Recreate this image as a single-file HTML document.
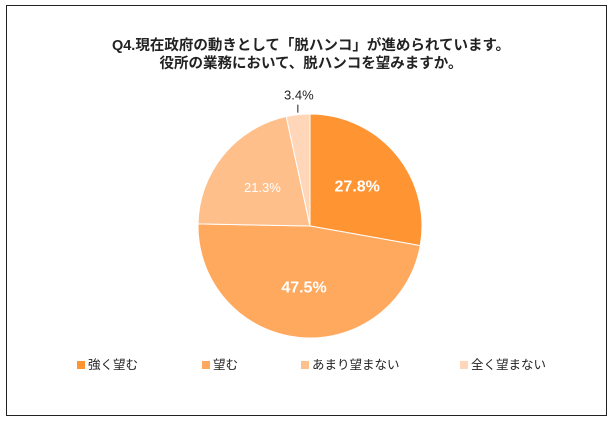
<!DOCTYPE html>
<html><head><meta charset="utf-8"><style>
body{margin:0;background:#fff;width:614px;height:424px;overflow:hidden;font-family:"Liberation Sans","Noto Sans CJK JP",sans-serif}
</style></head><body>
<svg width="614" height="424">
<rect x="6.5" y="5.5" width="600" height="410" fill="#fff" stroke="#222"/>
<text x="311" y="50" text-anchor="middle" font-size="14.5" font-weight="bold" fill="#222">Q4.現在政府の動きとして「脱ハンコ」が進められています。</text>
<text x="311" y="68" text-anchor="middle" font-size="14.5" font-weight="bold" fill="#222">役所の業務において、脱ハンコを望みますか。</text>
<g id="pie"></g>
<g id="legend"></g>
</svg>
<script>
const categories=["強く望む","望む","あまり望まない","全く望まない"];
const values=[27.8,47.5,21.3,3.4];
const colors=["#FF9433","#FFA95F","#FFBF8A","#FFD6B8"];
const NS="http://www.w3.org/2000/svg";
const cx=310,cy=226,r=112;
const pie=document.getElementById('pie');
const total=values.reduce((a,b)=>a+b,0);
let a0=0;
values.forEach((v,i)=>{
  const a1=a0+v/total*2*Math.PI;
  const p=a=>[cx+r*Math.sin(a),cy-r*Math.cos(a)];
  const [x0,y0]=p(a0),[x1,y1]=p(a1);
  const path=document.createElementNS(NS,'path');
  path.setAttribute('d',`M${cx},${cy}L${x0},${y0}A${r},${r} 0 ${a1-a0>Math.PI?1:0} 1 ${x1},${y1}Z`);
  path.setAttribute('fill',colors[i]);path.setAttribute('stroke','#fff');path.setAttribute('stroke-width','1');
  
  
  pie.appendChild(path);
  const m=(a0+a1)/2;
  const t=document.createElementNS(NS,'text');
  
  
  t.textContent=v.toFixed(1)+'%';
  t.setAttribute('text-anchor','middle');
  if(v<10){
    const lx=cx+(r+2)*Math.sin(m),ly=cy-(r+2)*Math.cos(m);
    const ln=document.createElementNS(NS,'line');
    ln.setAttribute('x1',lx);ln.setAttribute('y1',ly);ln.setAttribute('x2',lx);ln.setAttribute('y2',ly-8);
    ln.setAttribute('stroke','#222');
    
    
    pie.appendChild(ln);
    t.setAttribute('x',lx+1);t.setAttribute('y',ly-13);t.setAttribute('font-size','13');t.setAttribute('fill','#222');
  }else{
    const rr=r*0.55;
    t.setAttribute('x',cx+rr*Math.sin(m));t.setAttribute('y',cy-rr*Math.cos(m)+5);
    const big=v>25;
    t.setAttribute('font-size',big?'16':'13');
    if(big)t.setAttribute('font-weight','bold');
    t.setAttribute('fill','#fff');
  }
  pie.appendChild(t);
  a0=a1;
});
const lg=document.getElementById('legend');
const lx=[77,202,301,460];
categories.forEach((c,i)=>{
  const s=document.createElementNS(NS,'rect');
  s.setAttribute('x',lx[i]);s.setAttribute('y',361);s.setAttribute('width',8);s.setAttribute('height',8);s.setAttribute('fill',colors[i]);
  
  
  lg.appendChild(s);
  const t=document.createElementNS(NS,'text');
  t.setAttribute('x',lx[i]+11);t.setAttribute('y',369);t.setAttribute('font-size','12.5');t.setAttribute('fill','#222');
  t.textContent=c;
  
  
  lg.appendChild(t);
});
</script>
</body></html>
